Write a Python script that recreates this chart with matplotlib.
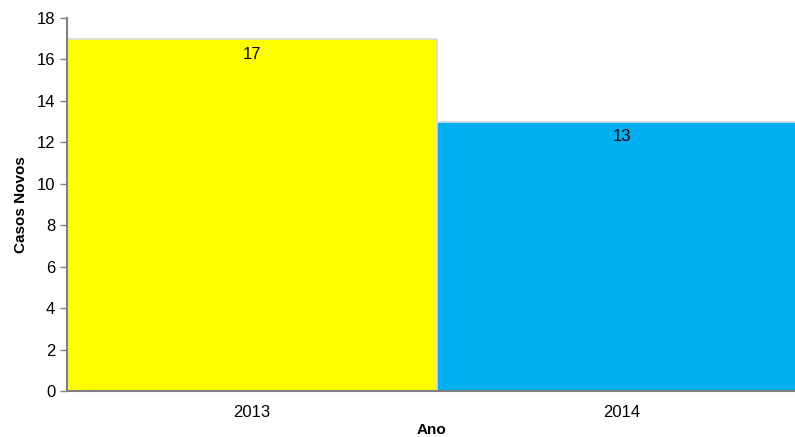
import matplotlib
matplotlib.use("Agg")
import matplotlib.pyplot as plt

# dados
anos = ['2013', '2014']
casos = [17, 13]
cores = ['#FFFF00', '#00B0F0']

plt.rcParams['font.family'] = ['Liberation Sans', 'DejaVu Sans']

fig = plt.figure(figsize=(7.95, 4.37), dpi=100)
ax = fig.add_axes([0.0843, 0.1053, 0.9157, 0.8535])

x = range(len(anos))
bars = ax.bar(x, casos, width=1.0, color=cores, edgecolor='#d9d9d9', linewidth=1.2)

for b, v in zip(bars, casos):
    ax.annotate(str(v), (b.get_x() + b.get_width() / 2, v), xytext=(0, -11),
                textcoords='offset points', ha='center', va='center', fontsize=12)

ax.set_xlim(-0.5, 1.468)
ax.set_ylim(0, 18)
ax.set_yticks(range(0, 19, 2))
ax.set_xticks(list(x))
ax.set_xticklabels(anos, fontsize=12)
ax.tick_params(axis='y', labelsize=12, color='#808080', length=5, width=1)
ax.tick_params(axis='x', length=0, pad=10)

for s in ['top', 'right']:
    ax.spines[s].set_visible(False)
for s in ['left', 'bottom']:
    ax.spines[s].set_color('#808080')
    ax.spines[s].set_linewidth(1.5)

ax.set_ylabel('Casos Novos', fontsize=11, fontweight='bold', labelpad=6)
ax.set_xlabel('Ano', fontsize=11, fontweight='bold', labelpad=2)

fig.savefig('out.png', dpi=100)
